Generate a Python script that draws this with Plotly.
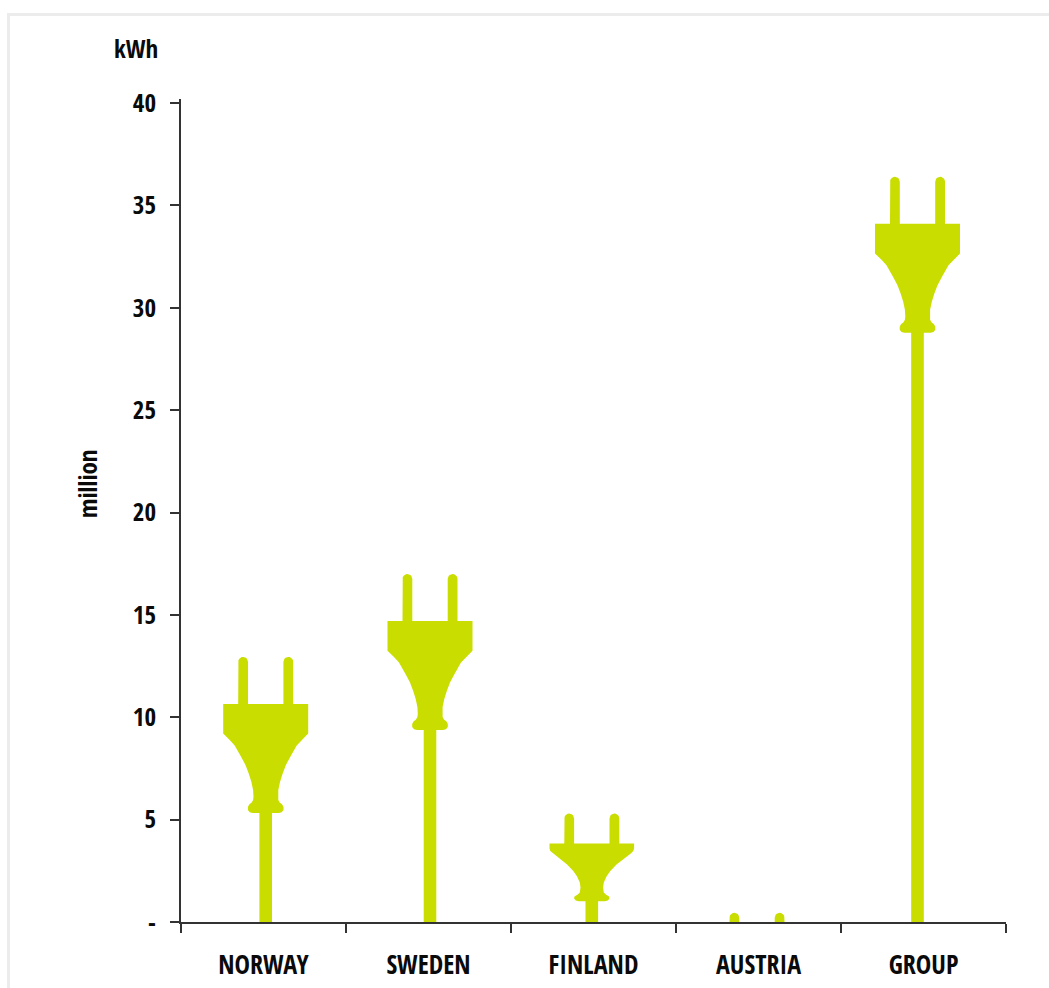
import numpy as np
import plotly.graph_objects as go

# Electricity figures per country, in million kWh
categories = ["NORWAY", "SWEDEN", "FINLAND", "AUSTRIA", "GROUP"]
values = [12.95, 17.0, 5.3, 0.45, 36.4]
y_tick_values = [0, 5, 10, 15, 20, 25, 30, 35, 40]
y_tick_labels = ["-", "5", "10", "15", "20", "25", "30", "35", "40"]

PLUG_COLOR = "#CADD00"
TEXT_COLOR = "#0A0A0A"
AXIS_COLOR = "#333333"
FONT = "'Open Sans Condensed', 'Noto Sans Condensed', 'Liberation Sans Narrow', 'Open Sans', sans-serif"

WIDTH, HEIGHT = 1049, 988
LEFT, RIGHT, TOP, BOTTOM = 181, 43, 99, 66
Y_MAX = 40.2
PLOT_W = WIDTH - LEFT - RIGHT
PLOT_H = HEIGHT - TOP - BOTTOM
PX_PER_CAT = PLOT_W / len(categories)
PX_PER_UNIT = PLOT_H / Y_MAX


def prong_top(cx, r=4.9):
    """Rounded top of one prong, running left to right."""
    a = np.linspace(np.pi, 0, 11)
    return [(cx + r * np.cos(t), r - r * np.sin(t)) for t in a]


# Right-hand profile of each plug, pixels from the centre line and from the prong tip
TALL_BODY = [(42.5, 47), (42.5, 76.7), (36, 83), (31, 88.5), (24.5, 100), (20, 108.5), (16.8, 117),
             (14.3, 125), (12.6, 133), (12.2, 140), (12.6, 143), (14, 145.5), (16.5, 147.5), (17.8, 150),
             (17.8, 153), (16, 155.3), (13, 156), (6.3, 156)]
SQUAT_BODY = [(42.3, 30), (42.3, 35), (41.5, 37.5), (39, 40), (32, 45), (24.7, 51), (18.5, 57.5),
              (14.7, 63), (12, 69), (11.3, 74), (12, 79), (14, 81), (17.3, 83), (17.7, 85),
              (16, 87), (13, 87.7), (6.3, 87.7)]


def plug_outline(value, body, prong_len):
    """Closed outline of a plug whose prong tip sits at value, with a cord down to zero."""
    pts = [(-27.5, prong_len)] + prong_top(-22.6) + [(-17.7, prong_len)]
    pts += [(17.7, prong_len)] + prong_top(22.6) + [(27.5, prong_len)]
    pts += body
    base = value * PX_PER_UNIT
    pts += [(6.3, base), (-6.3, base)]
    pts += [(-dx, dy) for dx, dy in reversed(body)]
    return pts


# Horizontal nudge of each plug from its category centre, in pixels
plug_offsets_px = [2.2, 1.5, -1.7, -1.5, -6]

fig = go.Figure()
for i, (name, value) in enumerate(zip(categories, values)):
    squat = name == "FINLAND"
    outline = plug_outline(value, SQUAT_BODY if squat else TALL_BODY, 30 if squat else 47)
    xs = [i + 0.5 + (plug_offsets_px[i] + dx) / PX_PER_CAT for dx, _ in outline]
    ys = [max(value - dy / PX_PER_UNIT, 0) for _, dy in outline]
    fig.add_trace(go.Scatter(
        x=xs + xs[:1], y=ys + ys[:1], mode="lines", fill="toself",
        fillcolor=PLUG_COLOR, line=dict(width=0, color=PLUG_COLOR),
        name=name, showlegend=False, hoverinfo="name",
    ))

fig.update_layout(
    width=WIDTH, height=HEIGHT,
    margin=dict(l=LEFT, r=RIGHT, t=TOP, b=BOTTOM, autoexpand=False),
    paper_bgcolor="white", plot_bgcolor="white", showlegend=False,
    font=dict(family=FONT, size=25, color=TEXT_COLOR),
    xaxis=dict(
        range=[0, len(categories)], showgrid=False, zeroline=False,
        showline=True, linecolor=AXIS_COLOR, linewidth=2,
        tickmode="array", tickvals=[i + 0.5 for i in range(len(categories))],
        ticktext=[f"<b>{c}</b>" for c in categories],
        tickfont=dict(size=26),
        ticks="", ticklabelstandoff=19,
        minor=dict(tickmode="array", tickvals=list(range(len(categories) + 1)),
                   ticks="outside", ticklen=9, tickwidth=2, tickcolor=AXIS_COLOR, showgrid=False),
    ),
    yaxis=dict(
        range=[0, Y_MAX], showgrid=False, zeroline=False,
        showline=True, linecolor=AXIS_COLOR, linewidth=2,
        tickmode="array", tickvals=y_tick_values,
        ticktext=[f"<b>{t}</b>" for t in y_tick_labels],
        ticks="outside", ticklen=9, tickwidth=2, tickcolor=AXIS_COLOR, ticklabelstandoff=9,
    ),
    annotations=[
        dict(text="<b>kWh</b>", xref="paper", yref="paper", showarrow=False,
             xanchor="center", yanchor="middle",
             x=(136 - LEFT) / PLOT_W, y=(HEIGHT - BOTTOM - 48) / PLOT_H),
        dict(text="<b>million</b>", xref="paper", yref="paper", showarrow=False, textangle=-90,
             xanchor="center", yanchor="middle",
             x=(87 - LEFT) / PLOT_W, y=(HEIGHT - BOTTOM - 484) / PLOT_H),
    ],
    shapes=[
        # light frame running along the top and left of the page
        dict(type="rect", xref="paper", yref="paper", layer="below",
             x0=(8.5 - LEFT) / PLOT_W, x1=(WIDTH + 20 - LEFT) / PLOT_W,
             y0=(-20 - BOTTOM) / PLOT_H,
             y1=(HEIGHT - BOTTOM - 14.5) / PLOT_H,
             line=dict(color="#ECECEC", width=3), fillcolor="rgba(0,0,0,0)"),
    ],
)

fig.write_html("out.html", config=dict(displayModeBar=False))
